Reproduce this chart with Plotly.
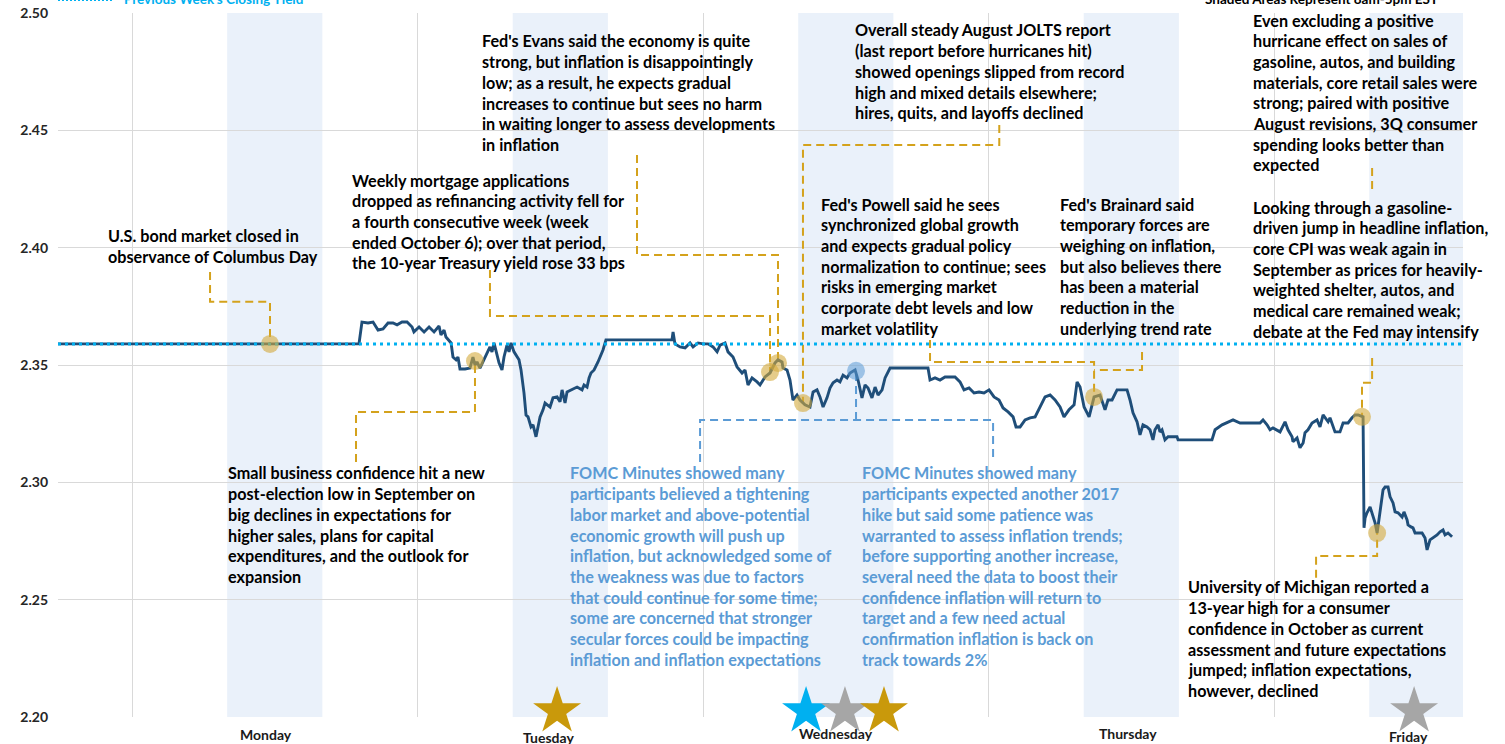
import plotly.graph_objects as go

# ---------------- data ----------------
# time axis: hours from Monday 00:00 ; values: 10-year Treasury yield (%)
hours = [-6.22, 19.08, 19.33, 19.84, 20.26, 20.68, 21.10, 21.52, 21.94, 22.28, 22.70, 23.12, 23.54, 23.70,
         24.13, 24.55, 24.97, 25.39, 25.81, 25.97, 26.23, 26.39, 26.82, 26.98, 27.24, 27.40, 27.57, 27.99,
         28.41, 28.66, 28.83, 29.00, 29.25, 29.67, 30.09, 30.26, 30.43, 30.85, 31.10, 31.27, 31.52, 31.69,
         31.86, 32.11, 32.53, 32.70, 32.95, 33.12, 33.29, 33.54, 33.71, 33.96, 34.13, 34.30, 34.55, 34.72,
         35.14, 35.39, 35.73, 35.98, 36.15, 36.40, 36.57, 36.99, 37.41, 37.83, 38.00, 38.25, 38.42, 38.58,
         38.84, 39.17, 39.59, 39.84, 45.39, 45.48, 45.64, 46.07, 46.49, 46.91, 47.16, 47.58, 48.00, 48.42,
         48.84, 49.18, 49.43, 49.85, 50.10, 50.52, 50.86, 51.28, 51.53, 51.78, 52.12, 52.54, 52.79, 53.21,
         53.63, 54.05, 54.30, 54.64, 54.72, 55.06, 55.31, 55.56, 55.90, 56.15, 56.57, 56.99, 57.25, 57.58,
         57.83, 58.09, 58.42, 58.67, 58.93, 59.26, 59.51, 59.77, 60.10, 60.35, 60.78, 61.03, 61.36, 61.62,
         61.87, 62.20, 62.46, 62.71, 63.05, 63.30, 63.72, 66.91, 67.08, 67.50, 67.92, 68.34, 69.18, 69.60,
         69.94, 70.36, 70.78, 71.20, 71.62, 72.04, 72.46, 72.88, 73.22, 73.64, 74.06, 74.31, 74.65, 75.07,
         75.49, 75.91, 76.33, 76.75, 77.17, 77.59, 78.01, 78.34, 78.76, 79.19, 79.44, 79.69, 80.03, 80.45,
         80.87, 81.37, 81.79, 82.04, 82.38, 82.80, 83.64, 83.89, 84.14, 84.48, 84.73, 84.98, 85.32, 85.57,
         85.82, 85.99, 86.25, 86.41, 86.58, 86.83, 87.09, 87.84, 87.93, 90.78, 91.04, 91.63, 92.55, 93.14,
         94.82, 95.07, 95.41, 95.66, 95.91, 96.50, 96.92, 97.17, 97.51, 97.59, 97.93, 98.18, 98.44, 98.60,
         98.85, 99.19, 99.61, 99.86, 100.12, 100.54, 100.70, 100.96, 101.12, 101.54, 101.80, 102.22, 102.55,
         102.81, 103.06, 103.48, 103.56, 103.65, 103.81, 104.07, 104.32, 104.49, 104.66, 104.91, 105.16,
         105.33, 105.58, 105.75, 106.00, 106.17, 106.42, 106.76, 106.92, 107.18, 107.26, 107.51, 107.68,
         107.85, 108.10, 108.44, 108.69, 108.86, 109.11, 109.36, 109.70, 109.95, 110.20, 110.37, 110.62,
         110.96]
yield_10y = [2.3590, 2.3590, 2.3683, 2.3679, 2.3683, 2.3649, 2.3654, 2.3679, 2.3679, 2.3671, 2.3683, 2.3683,
             2.3662, 2.3641, 2.3662, 2.3641, 2.3662, 2.3641, 2.3666, 2.3628, 2.3649, 2.3619, 2.3594, 2.3534,
             2.3522, 2.3534, 2.3483, 2.3483, 2.3487, 2.3534, 2.3500, 2.3513, 2.3487, 2.3534, 2.3577, 2.3556,
             2.3594, 2.3509, 2.3479, 2.3534, 2.3585, 2.3556, 2.3594, 2.3556, 2.3522, 2.3479, 2.3381, 2.3287,
             2.3279, 2.3236, 2.3245, 2.3194, 2.3232, 2.3279, 2.3309, 2.3338, 2.3321, 2.3360, 2.3364, 2.3343,
             2.3394, 2.3338, 2.3385, 2.3394, 2.3406, 2.3394, 2.3415, 2.3406, 2.3445, 2.3466, 2.3479, 2.3513,
             2.3564, 2.3607, 2.3607, 2.3641, 2.3590, 2.3577, 2.3573, 2.3594, 2.3577, 2.3594, 2.3590, 2.3590,
             2.3577, 2.3556, 2.3585, 2.3594, 2.3556, 2.3534, 2.3492, 2.3466, 2.3479, 2.3415, 2.3445, 2.3428,
             2.3415, 2.3449, 2.3466, 2.3509, 2.3522, 2.3513, 2.3487, 2.3479, 2.3436, 2.3351, 2.3372, 2.3351,
             2.3330, 2.3321, 2.3385, 2.3394, 2.3364, 2.3321, 2.3360, 2.3402, 2.3424, 2.3436, 2.3428, 2.3457,
             2.3445, 2.3466, 2.3479, 2.3436, 2.3360, 2.3415, 2.3402, 2.3360, 2.3406, 2.3372, 2.3394, 2.3445,
             2.3487, 2.3487, 2.3436, 2.3445, 2.3436, 2.3449, 2.3449, 2.3428, 2.3394, 2.3402, 2.3381, 2.3385,
             2.3381, 2.3394, 2.3364, 2.3351, 2.3317, 2.3300, 2.3279, 2.3236, 2.3236, 2.3266, 2.3275, 2.3279,
             2.3321, 2.3364, 2.3372, 2.3351, 2.3321, 2.3279, 2.3309, 2.3330, 2.3428, 2.3406, 2.3321, 2.3279,
             2.3364, 2.3372, 2.3309, 2.3351, 2.3351, 2.3394, 2.3394, 2.3351, 2.3296, 2.3258, 2.3202, 2.3245,
             2.3236, 2.3224, 2.3181, 2.3224, 2.3245, 2.3215, 2.3224, 2.3181, 2.3194, 2.3194, 2.3181, 2.3181,
             2.3224, 2.3245, 2.3266, 2.3253, 2.3253, 2.3266, 2.3245, 2.3224, 2.3232, 2.3215, 2.3258, 2.3224,
             2.3194, 2.3173, 2.3189, 2.3147, 2.3168, 2.3211, 2.3224, 2.3253, 2.3266, 2.3236, 2.3287, 2.3258,
             2.3275, 2.3236, 2.3215, 2.3215, 2.3253, 2.3253, 2.3275, 2.3287, 2.3287, 2.3279, 2.2806, 2.2848,
             2.2870, 2.2895, 2.2852, 2.2827, 2.2784, 2.2870, 2.2968, 2.2980, 2.2980, 2.2938, 2.2912, 2.2874,
             2.2870, 2.2852, 2.2874, 2.2840, 2.2819, 2.2810, 2.2806, 2.2784, 2.2784, 2.2784, 2.2763, 2.2712,
             2.2755, 2.2763, 2.2776, 2.2789, 2.2797, 2.2776, 2.2784, 2.2768]
prev_week_close = 2.359

day_names = ["Monday", "Tuesday", "Wednesday", "Thursday", "Friday"]
day_name_hours = [11.26, 34.97, 59.18, 83.72, 107.26]
day_start_hours = [0, 24, 48, 72, 96]
session_open, session_close = 8.0, 16.0
y_tick_values = [2.20, 2.25, 2.30, 2.35, 2.40, 2.45, 2.50]

event_hours = [11.60, 28.83, 53.63, 54.30, 56.40, 80.87, 103.39, 104.66]
event_yields = [2.3590, 2.3517, 2.3470, 2.3509, 2.3338, 2.3364, 2.3279, 2.2784]
fomc_hour, fomc_yield = 60.86, 2.3475

star_hours = [35.73, 56.66, 59.93, 63.21, 107.77]
star_colors = ["#C9990B", "#00B0F0", "#A6A6A6", "#C9990B", "#A6A6A6"]

# ---------------- styles / layout helpers ----------------
NAVY = "#1F4E79"
GOLD = "#D4A21C"
BLUE_TXT = "#5B9BD5"
CYAN = "#00B0F0"
SHADE = "#EAF1FA"
GRID = "#D9D9D9"
FONT = "Lato"
TXT_SIZE = 16.2
LINE_STEP = 20.7
X_RANGE = [-6.22, 111.88]
Y_RANGE = [2.20, 2.50]

fig = go.Figure()

# gold dashed connectors (elbow paths from notes to event markers)
gold_paths = [
    ([6.56, 6.56, 11.60, 11.60], [2.3896, 2.3769, 2.3769, 2.3590]),
    ([18.83, 18.83, 28.83, 28.83], [2.3087, 2.3300, 2.3300, 2.3517]),
    ([30.09, 30.09, 53.63, 53.63], [2.3905, 2.3709, 2.3709, 2.3470]),
    ([42.45, 42.45, 54.30, 54.30], [2.4395, 2.3969, 2.3969, 2.3509]),
    ([72.90, 72.90, 56.40, 56.40], [2.4523, 2.4438, 2.4438, 2.3338]),
    ([67.08, 67.08, 80.87, 80.87], [2.3607, 2.3513, 2.3513, 2.3364]),
    ([84.90, 84.90, 80.87], [2.3555, 2.3479, 2.3479]),
    ([104.24, 104.24], [2.4340, 2.4237]),
    ([104.24, 104.24, 103.39, 103.39], [2.3530, 2.3424, 2.3424, 2.3279]),
    ([99.53, 99.53, 104.66, 104.66], [2.2593, 2.2686, 2.2686, 2.2784]),
]
for xs, ys in gold_paths:
    fig.add_trace(go.Scatter(x=xs, y=ys, mode="lines", line=dict(color=GOLD, width=2, dash="8px,5px"),
                             hoverinfo="skip", showlegend=False))
blue_paths = [
    ([47.75, 47.75, 72.38, 72.38], [2.3087, 2.3266, 2.3266, 2.3087]),
    ([60.86, 60.86], [2.3266, 2.3475]),
]
for xs, ys in blue_paths:
    fig.add_trace(go.Scatter(x=xs, y=ys, mode="lines", line=dict(color=BLUE_TXT, width=2, dash="8px,5px"),
                             hoverinfo="skip", showlegend=False))

# yield series
fig.add_trace(go.Scatter(x=hours, y=yield_10y, mode="lines", line=dict(color=NAVY, width=2.9),
                         name="10-Year Treasury Yield", showlegend=False))

# previous week's close
fig.add_trace(go.Scatter(x=X_RANGE, y=[prev_week_close, prev_week_close], mode="lines",
                         line=dict(color=CYAN, width=3, dash="3px,4px"), showlegend=False, hoverinfo="skip"))

# event markers
fig.add_trace(go.Scatter(x=event_hours, y=event_yields, mode="markers",
                         marker=dict(size=18, color="rgba(212,170,60,0.6)"), showlegend=False))
fig.add_trace(go.Scatter(x=[fomc_hour], y=[fomc_yield], mode="markers",
                         marker=dict(size=18, color="rgba(91,155,213,0.55)"), showlegend=False))

# stars
fig.add_trace(go.Scatter(x=star_hours, y=[2.2025] * len(star_hours), mode="markers", cliponaxis=False,
                         marker=dict(symbol="star", size=36, color=star_colors, line=dict(width=0)),
                         showlegend=False))

# shaded sessions
for d in day_start_hours:
    fig.add_shape(type="rect", xref="x", yref="paper", x0=d + session_open, x1=d + session_close,
                  y0=0, y1=1, fillcolor=SHADE, line=dict(width=0), layer="below")

# notes
notes = [
    (-2.19, 2.4050, "#000000", ["U.S. bond market closed in", "observance of Columbus Day"]),
    (18.33, 2.4288, "#000000", ["Weekly mortgage applications", "dropped as refinancing activity fell for",
                                "a fourth consecutive week (week", "ended October 6); over that period,",
                                "the 10-year Treasury yield rose 33 bps"]),
    (29.25, 2.4881, "#000000", ["Fed's Evans said the economy is quite", "strong, but inflation is disappointingly",
                                "low; as a result, he expects gradual", "increases to continue but sees no harm",
                                "in waiting longer to assess developments", "in inflation"]),
    (60.61, 2.4928, "#000000", ["Overall steady August JOLTS report", "(last report before hurricanes hit)",
                                "showed openings slipped from record", "high and mixed details elsewhere;",
                                "hires, quits, and layoffs declined"]),
    (57.75, 2.4186, "#000000", ["Fed's Powell said he sees", "synchronized global growth",
                                "and expects gradual policy", "normalization to continue; sees",
                                "risks in emerging market", "corporate debt levels and low", "market volatility"]),
    (77.84, 2.4186, "#000000", ["Fed's Brainard said", "temporary forces are", "weighing on inflation,",
                                "but also believes there", "has been a material", "reduction in the",
                                "underlying trend rate"]),
    (94.06, 2.4970, "#000000", ["Even excluding a positive", "hurricane effect on sales of",
                                "gasoline, autos, and building", "materials, core retail sales were",
                                "strong; paired with positive", "August revisions, 3Q consumer",
                                "spending looks better than", "expected"]),
    (94.06, 2.4173, "#000000", ["Looking through a gasoline-", "driven jump in headline inflation,",
                                "core CPI was weak again in", "September as prices for heavily-",
                                "weighted shelter, autos, and", "medical care remained weak;",
                                "debate at the Fed may intensify"]),
    (7.90, 2.3040, "#000000", ["Small business confidence hit a new", "post-election low in September on",
                               "big declines in expectations for", "higher sales, plans for capital",
                               "expenditures, and the outlook for", "expansion"]),
    (36.65, 2.3040, BLUE_TXT, ["FOMC Minutes showed many", "participants believed a tightening",
                               "labor market and above-potential", "economic growth will push up",
                               "inflation, but acknowledged some of", "the weakness was due to factors",
                               "that could continue for some time;", "some are concerned that stronger",
                               "secular forces could be impacting", "inflation and inflation expectations"]),
    (61.20, 2.3040, BLUE_TXT, ["FOMC Minutes showed many", "participants expected another 2017",
                               "hike but said some patience was", "warranted to assess inflation trends;",
                               "before supporting another increase,", "several need the data to boost their",
                               "confidence inflation will return to", "target and a few need actual",
                               "confirmation inflation is back on", "track towards 2%"]),
    (88.60, 2.2554, "#000000", ["University of Michigan reported a", "13-year high for a consumer",
                                "confidence in October as current", "assessment and future expectations",
                                "jumped; inflation expectations,", "however, declined"]),
]
for x0, y0, col, lines in notes:
    for i, ln in enumerate(lines):
        fig.add_annotation(x=x0, y=y0, xref="x", yref="y", text=ln, showarrow=False,
                           xanchor="left", yanchor="middle", yshift=-i * LINE_STEP,
                           font=dict(family=FONT, size=TXT_SIZE, color=col, weight="bold"))

# day labels
day_shift = [-17, -20, -16, -16, -19]
for name, hx, s in zip(day_names, day_name_hours, day_shift):
    fig.add_annotation(x=hx, y=Y_RANGE[0], xref="x", yref="y", text=name, showarrow=False,
                       yshift=s, yanchor="middle",
                       font=dict(family=FONT, size=14, color="#1a1a1a", weight="bold"))

# top legend (partly cut off by the page edge, as in the source)
fig.add_shape(type="line", xref="paper", yref="paper", x0=0, x1=0.0384, y0=1.0185, y1=1.0185,
              line=dict(color=CYAN, width=2, dash="2px,2px"))
fig.add_annotation(x=0.0456, y=1.0199, xref="paper", yref="paper", text="Previous Week's Closing Yield",
                   showarrow=False, xanchor="left", yanchor="middle",
                   font=dict(family=FONT, size=13.5, color=CYAN, weight="bold"))
fig.add_annotation(x=0.8996, y=1.0199, xref="paper", yref="paper", text="Shaded Areas Represent 8am-5pm EST",
                   showarrow=False, xanchor="center", yanchor="middle",
                   font=dict(family=FONT, size=13.5, color="#000000", weight="bold"))

fig.update_layout(
    width=1505, height=744,
    margin=dict(l=58, r=42, t=13, b=27, autoexpand=False),
    paper_bgcolor="white", plot_bgcolor="white",
    xaxis=dict(range=X_RANGE, tickvals=day_start_hours, showticklabels=False, showgrid=True,
               gridcolor=GRID, gridwidth=1, zeroline=False, ticks="", showline=False, automargin=False),
    yaxis=dict(range=Y_RANGE, tickvals=y_tick_values, tickformat=".2f", showgrid=True,
               gridcolor=GRID, gridwidth=1, zeroline=False, ticks="", showline=False, automargin=False,
               ticklabelstandoff=9,
               tickfont=dict(family=FONT, size=14, color="#262626", weight="bold")),
    font=dict(family=FONT),
)

fig.write_html("out.html", config={"displayModeBar": False},
               post_script="document.body.style.margin='0';document.body.style.overflow='hidden';")
